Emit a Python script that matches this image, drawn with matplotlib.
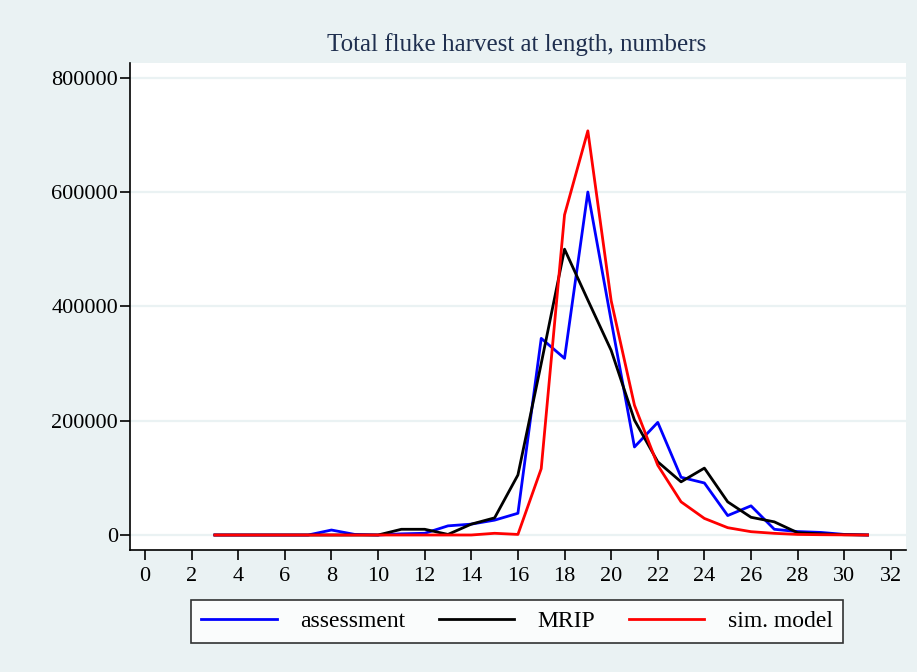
import matplotlib
matplotlib.use("Agg")
import matplotlib.pyplot as plt

lengths = list(range(3, 32))
assessment = [0, 0, 0, 0, 0, 8700, 1000, 0, 2000, 3000, 16000, 19000, 26000, 38000,
              344000, 309000, 600000, 375000, 154000, 197000, 101000, 91000, 34000,
              51000, 10000, 6000, 4500, 1000, 0]
mrip = [0, 0, 0, 0, 0, 0, 0, 0, 10000, 10000, 1000, 19000, 30000, 105000,
        300000, 500000, 411000, 323000, 201000, 128000, 93000, 117000, 58000,
        31000, 23000, 4000, 2000, 500, 0]
sim_model = [0, 0, 0, 0, 0, 0, 0, 0, 0, 0, 0, 0, 3000, 1000,
             116000, 560000, 707000, 410000, 227000, 122000, 58000, 29000, 12800,
             5800, 2900, 1000, 500, 200, 0]

series_labels = ["assessment", "MRIP", "sim. model"]
series_colors = ["#0000FF", "#000000", "#FF0000"]
x_ticks = list(range(0, 33, 2))
y_ticks = [0, 200000, 400000, 600000, 800000]
title = "Total fluke harvest at length, numbers"

bg = "#EAF2F3"
plt.rcParams['font.family'] = ['Liberation Serif', 'DejaVu Serif']

fig = plt.figure(figsize=(9.17, 6.72), dpi=100, facecolor=bg)
ax = fig.add_axes([130/917, 1 - 550/672, (906-130)/917, (550-62.7)/672])
ax.set_facecolor("white")

for vals, lab, col in zip([assessment, mrip, sim_model], series_labels, series_colors):
    ax.plot(lengths, vals, color=col, lw=2.0, label=lab)

ax.set_xlim(-0.643, 32.65)
ax.set_ylim(-26240, 826200)
ax.set_xticks(x_ticks)
ax.set_yticks(y_ticks)
ax.set_yticklabels([str(v) for v in y_ticks])
ax.tick_params(axis='both', direction='out', length=7, width=1.2, labelsize=16, color='black')
ax.tick_params(axis='x', pad=5)
ax.tick_params(axis='y', pad=1.5)
ax.grid(axis='y', color=bg, lw=1.6)
ax.set_axisbelow(True)
for s in ['top', 'right']:
    ax.spines[s].set_visible(False)
for s in ['left', 'bottom']:
    ax.spines[s].set_linewidth(1.2)

fig.text(517/917, 1 - 45/672, title, ha='center', va='center', fontsize=18, color='#1F2F4F')

leg = fig.legend(loc='upper center', bbox_to_anchor=(517/917, 1 - 600/672), ncol=3,
                 fontsize=17, frameon=True, fancybox=False, edgecolor='black',
                 handlelength=3.2, columnspacing=1.4, handletextpad=1.0, borderpad=0.45,
                 borderaxespad=0)
leg.get_frame().set_linewidth(1.2)
leg.get_frame().set_facecolor('white')

fig.savefig("out.png", dpi=100, facecolor=bg)
